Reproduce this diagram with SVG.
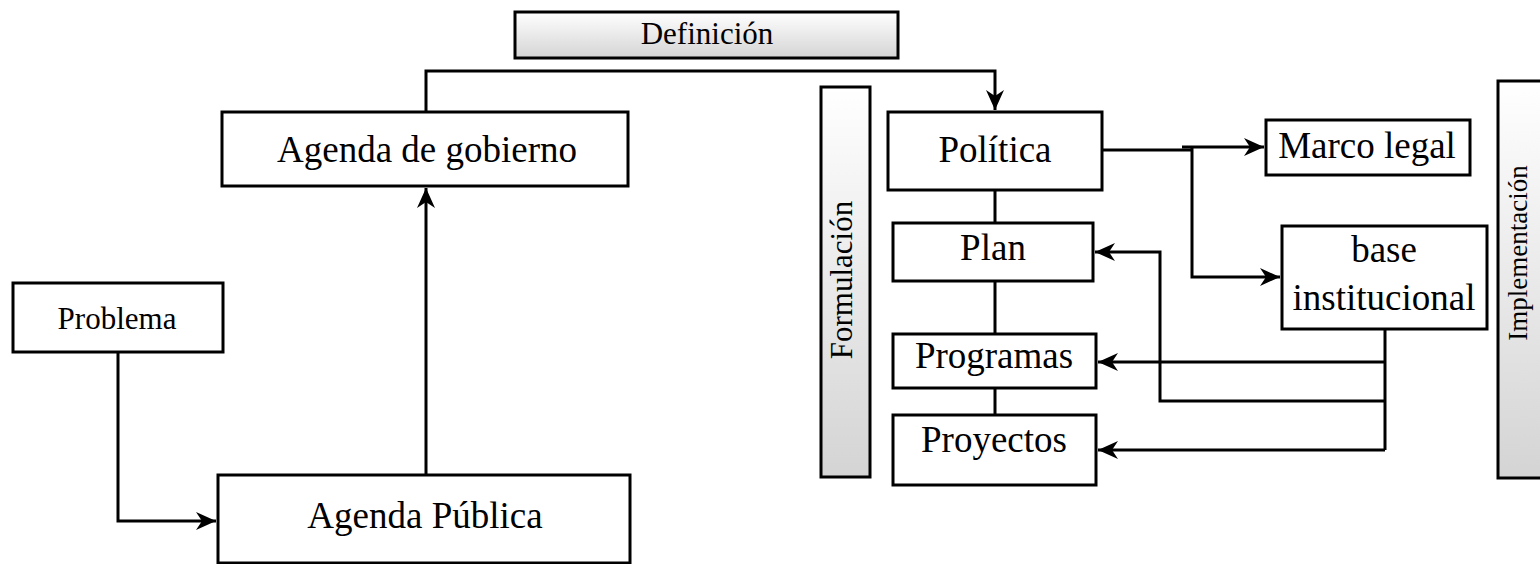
<svg xmlns="http://www.w3.org/2000/svg" width="1540" height="564" viewBox="0 0 1540 564">
<style>
.box{fill:#fff;stroke:#000;stroke-width:3}
.bar{stroke:#000;stroke-width:3}
.t{font-family:"Liberation Serif","Times New Roman",serif;font-size:37px;fill:#000;text-anchor:middle}
.s{font-size:31px}
.c{fill:none;stroke:#000;stroke-width:3}
</style>
<defs>
<linearGradient id="gv" x1="0" y1="0" x2="0" y2="1">
<stop offset="0" stop-color="#ffffff"/>
<stop offset="1" stop-color="#d4d4d4"/>
</linearGradient>
<marker id="ar" markerUnits="userSpaceOnUse" markerWidth="22" markerHeight="22" viewBox="0 0 22 22" refX="20" refY="11" orient="auto">
<path d="M0,2 L20,11 L0,20 L6,11 Z" fill="#000"/>
</marker>
</defs>
<g id="connectors">
<path class="c" d="M118,352 V521 H216" marker-end="url(#ar)"/>
<path class="c" d="M426,475 V188" marker-end="url(#ar)"/>
<path class="c" d="M426,112 V71 H995 V110" marker-end="url(#ar)"/>
<path class="c" d="M995,190 V223 M995,281 V334 M995,388 V415"/>
<path class="c" d="M1100,150 H1192"/>
<path class="c" d="M1182,147 H1264" marker-end="url(#ar)"/>
<path class="c" d="M1192,147 V277 H1280" marker-end="url(#ar)"/>
<path class="c" d="M1385,329 V450"/>
<path class="c" d="M1385,362 H1098" marker-end="url(#ar)"/>
<path class="c" d="M1385,401 H1160 V252 H1095" marker-end="url(#ar)"/>
<path class="c" d="M1385,450 H1098" marker-end="url(#ar)"/>
</g>
<g id="definicion">
<rect class="bar" x="515" y="12" width="383" height="46" fill="url(#gv)"/>
<text class="t s" x="707" y="44">Definición</text>
</g>
<g id="agenda-gobierno">
<rect class="box" x="222" y="112" width="406" height="74"/>
<text class="t" x="427" y="162">Agenda de gobierno</text>
</g>
<g id="problema">
<rect class="box" x="13" y="283" width="210" height="69"/>
<text class="t s" x="117" y="329">Problema</text>
</g>
<g id="agenda-publica">
<rect class="box" x="218" y="475" width="412" height="88"/>
<text class="t" x="425" y="528">Agenda Pública</text>
</g>
<g id="formulacion">
<rect class="bar" x="821" y="87" width="49" height="390" fill="url(#gv)"/>
<text class="t s" transform="translate(852,280) rotate(-90)" x="0" y="0">Formulación</text>
</g>
<g id="politica">
<rect class="box" x="888" y="112" width="214" height="78"/>
<text class="t" x="995" y="162">Política</text>
</g>
<g id="plan">
<rect class="box" x="893" y="223" width="200" height="58"/>
<text class="t" x="993" y="260">Plan</text>
</g>
<g id="programas">
<rect class="box" x="893" y="334" width="203" height="54"/>
<text class="t" x="994" y="368">Programas</text>
</g>
<g id="proyectos">
<rect class="box" x="893" y="415" width="203" height="70"/>
<text class="t" x="994" y="452">Proyectos</text>
</g>
<g id="marco-legal">
<rect class="box" x="1266" y="120" width="204" height="55"/>
<text class="t" x="1367" y="158">Marco legal</text>
</g>
<g id="base-institucional">
<rect class="box" x="1282" y="226" width="205" height="103"/>
<text class="t" x="1384" y="262">base</text>
<text class="t" x="1384" y="310">institucional</text>
</g>
<g id="implementacion">
<rect class="bar" x="1498" y="81" width="50" height="397" fill="url(#gv)"/>
<text class="t" style="font-size:27px" transform="translate(1527,253) rotate(-90)" x="0" y="0">Implementación</text>
</g>
</svg>
